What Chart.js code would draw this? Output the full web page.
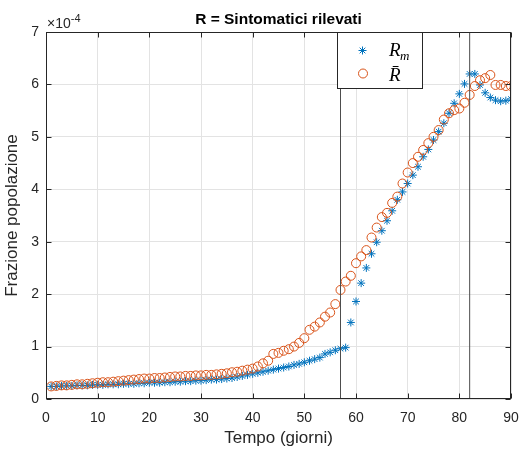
<!DOCTYPE html>
<html><head><meta charset="utf-8">
<script src="https://cdn.jsdelivr.net/npm/chart.js@4.4.0/dist/chart.umd.min.js"></script>
<style>html,body{margin:0;padding:0;background:#fff;}canvas{display:block;}</style>
</head><body>
<canvas id="c" width="520" height="449"></canvas>
<script>
const days = [1,2,3,4,5,6,7,8,9,10,11,12,13,14,15,16,17,18,19,20,21,22,23,24,25,26,27,28,29,30,
31,32,33,34,35,36,37,38,39,40,41,42,43,44,45,46,47,48,49,50,51,52,53,54,55,56,57,58,59,60,
61,62,63,64,65,66,67,68,69,70,71,72,73,74,75,76,77,78,79,80,81,82,83,84,85,86,87,88,89,90];
// values in units of 1e-4
const Rm = [0.24,0.24,0.25,0.25,0.25,0.26,0.26,0.26,0.27,0.27,
0.27,0.28,0.28,0.28,0.29,0.29,0.29,0.30,0.30,0.31,
0.31,0.31,0.32,0.32,0.33,0.33,0.34,0.34,0.35,0.35,
0.36,0.37,0.37,0.38,0.39,0.40,0.42,0.44,0.46,0.48,
0.50,0.52,0.54,0.56,0.58,0.60,0.62,0.65,0.67,0.70,
0.73,0.76,0.79,0.86,0.89,0.93,0.96,0.98,1.46,1.86,
2.21,2.50,2.77,2.99,3.21,3.40,3.59,3.80,3.95,4.11,
4.27,4.43,4.62,4.76,4.94,5.10,5.26,5.45,5.64,5.82,
6.01,6.20,6.20,5.99,5.84,5.75,5.70,5.68,5.69,5.72];
const Rbar = [0.24,0.25,0.26,0.26,0.27,0.28,0.28,0.29,0.30,0.31,
0.32,0.32,0.33,0.34,0.35,0.36,0.37,0.38,0.39,0.39,
0.40,0.40,0.41,0.42,0.43,0.43,0.44,0.44,0.45,0.45,
0.46,0.46,0.47,0.48,0.49,0.51,0.52,0.54,0.56,0.58,
0.62,0.68,0.73,0.86,0.88,0.92,0.95,1.00,1.07,1.16,
1.32,1.38,1.46,1.57,1.65,1.81,2.08,2.24,2.35,2.59,
2.72,2.84,3.08,3.27,3.47,3.55,3.74,3.86,4.11,4.32,
4.50,4.62,4.75,4.88,5.00,5.13,5.33,5.45,5.51,5.54,
5.65,5.80,5.97,6.08,6.12,6.18,5.99,5.99,5.97,5.97];
const vLines = [57, 82];
const xTicks = [0,10,20,30,40,50,60,70,80,90];
const yTicks = [0,1,2,3,4,5,6,7];
const titleText = 'R = Sintomatici rilevati';
const xTitle = 'Tempo (giorni)';
const yTitle = 'Frazione popolazione';
const legendLabels = ['R', 'R'];

const FONT = '"Liberation Sans", Arial, Helvetica, sans-serif';
const BLUE = '#0072BD', ORANGE = '#D95319', AX = '#262626';

const decor = {
  id: 'decor',
  afterDraw(chart) {
    const ctx = chart.ctx, a = chart.chartArea;
    const xs = chart.scales.x, ys = chart.scales.y;
    ctx.save();
    ctx.strokeStyle = AX; ctx.lineWidth = 1;
    const L = Math.round(a.left)+0.5, R = Math.round(a.right)-0.5, T = Math.round(a.top)+0.5, B = Math.round(a.bottom)-0.5;
    ctx.strokeRect(L, T, R-L, B-T);
    ctx.beginPath();
    xTicks.forEach(v => {
      const px = Math.round(xs.getPixelForValue(v)) + 0.5;
      ctx.moveTo(px, B); ctx.lineTo(px, B-5);
      ctx.moveTo(px, T); ctx.lineTo(px, T+5);
    });
    yTicks.forEach(v => {
      const py = Math.round(ys.getPixelForValue(v)) + 0.5;
      ctx.moveTo(L, py); ctx.lineTo(L+5, py);
      ctx.moveTo(R, py); ctx.lineTo(R-5, py);
    });
    ctx.stroke();
    ctx.fillStyle = '#000';
    ctx.font = 'bold 15.5px ' + FONT;
    ctx.textAlign = 'center'; ctx.textBaseline = 'alphabetic';
    ctx.fillText(titleText, (a.left + a.right)/2, 24);
    ctx.fillStyle = AX;
    ctx.font = '17px ' + FONT;
    ctx.fillText(xTitle, (a.left + a.right)/2, 443);
    ctx.save();
    ctx.translate(17, (a.top + a.bottom)/2);
    ctx.rotate(-Math.PI/2);
    ctx.fillText(yTitle, 0, 0);
    ctx.restore();
    ctx.textAlign = 'left';
    ctx.font = '14px ' + FONT;
    ctx.fillText('\u00d710', 47, 28);
    const w = ctx.measureText('\u00d710').width;
    ctx.font = '11px ' + FONT;
    ctx.fillText('-4', 47 + w, 22);
    const lx = 337.5, ly = a.top + 0.5, lw = 85, lh = 56;
    ctx.fillStyle = '#fff';
    ctx.fillRect(lx, ly, lw, lh);
    ctx.strokeStyle = AX; ctx.lineWidth = 1;
    ctx.strokeRect(lx, ly, lw, lh);
    ctx.strokeStyle = BLUE; ctx.lineWidth = 1;
    Chart.helpers.drawPoint(ctx, {pointStyle: 'star', radius: 4, borderWidth: 1}, 362.5, 50.5);
    ctx.strokeStyle = ORANGE; ctx.fillStyle = 'rgba(0,0,0,0)';
    Chart.helpers.drawPoint(ctx, {pointStyle: 'circle', radius: 4.5, borderWidth: 1}, 363, 73.5);
    ctx.fillStyle = '#000';
    ctx.textAlign = 'left'; ctx.textBaseline = 'alphabetic';
    ctx.font = 'italic 19px "Liberation Serif", "DejaVu Serif", serif';
    ctx.fillText(legendLabels[0], 389, 56);
    const rw = ctx.measureText(legendLabels[0]).width;
    ctx.font = 'italic 13px "Liberation Serif", "DejaVu Serif", serif';
    ctx.fillText('m', 389 + rw - 0.5, 60);
    ctx.font = 'italic 19px "Liberation Serif", "DejaVu Serif", serif';
    ctx.fillText(legendLabels[1] + '\u0304', 389, 81);
    ctx.restore();
  }
};

const ptsRm = days.map((d, i) => ({x: d, y: Rm[i]}));
const ptsRbar = days.map((d, i) => ({x: d, y: Rbar[i]}));

new Chart(document.getElementById('c'), {
  type: 'scatter',
  data: {
    datasets: [
      {label: 'Rm', data: ptsRm, pointStyle: 'star', pointRadius: 4, pointHoverRadius: 4,
       borderColor: BLUE, backgroundColor: BLUE, pointBorderWidth: 1, showLine: false, order: 2},
      {label: 'Rbar', data: ptsRbar, pointStyle: 'circle', pointRadius: 4.5, pointHoverRadius: 4.5,
       borderColor: ORANGE, backgroundColor: 'rgba(0,0,0,0)', pointBorderWidth: 1, showLine: false, order: 1},
      ...vLines.map(v => ({label: 'v' + v, type: 'line', data: [{x: v, y: 0}, {x: v, y: 7}],
       borderColor: '#4d4d4d', borderWidth: 1, pointRadius: 0, showLine: true, order: 0}))
    ]
  },
  options: {
    responsive: false, animation: false, devicePixelRatio: 1,
    layout: {padding: {top: 32, right: 9, left: 0, bottom: 0}},
    plugins: {legend: {display: false}, title: {display: false}, tooltip: {enabled: false}},
    scales: {
      x: {type: 'linear', min: 0, max: 90,
          afterBuildTicks: s => { s.ticks = xTicks.map(v => ({value: v})); },
          ticks: {color: AX, font: {family: FONT, size: 14}, padding: 11, maxRotation: 0},
          grid: {color: '#e3e3e3', drawTicks: false}, border: {display: false},
          afterFit: s => { s.height = 50; s.paddingLeft = 0; s.paddingRight = 0; }},
      y: {type: 'linear', min: 0, max: 7,
          afterBuildTicks: s => { s.ticks = yTicks.map(v => ({value: v})); },
          ticks: {color: AX, font: {family: FONT, size: 14}, padding: 7},
          grid: {color: '#e3e3e3', drawTicks: false}, border: {display: false},
          afterFit: s => { s.width = 46; s.paddingTop = 0; s.paddingBottom = 0; }}
    }
  },
  plugins: [decor]
});
</script>
</body></html>
